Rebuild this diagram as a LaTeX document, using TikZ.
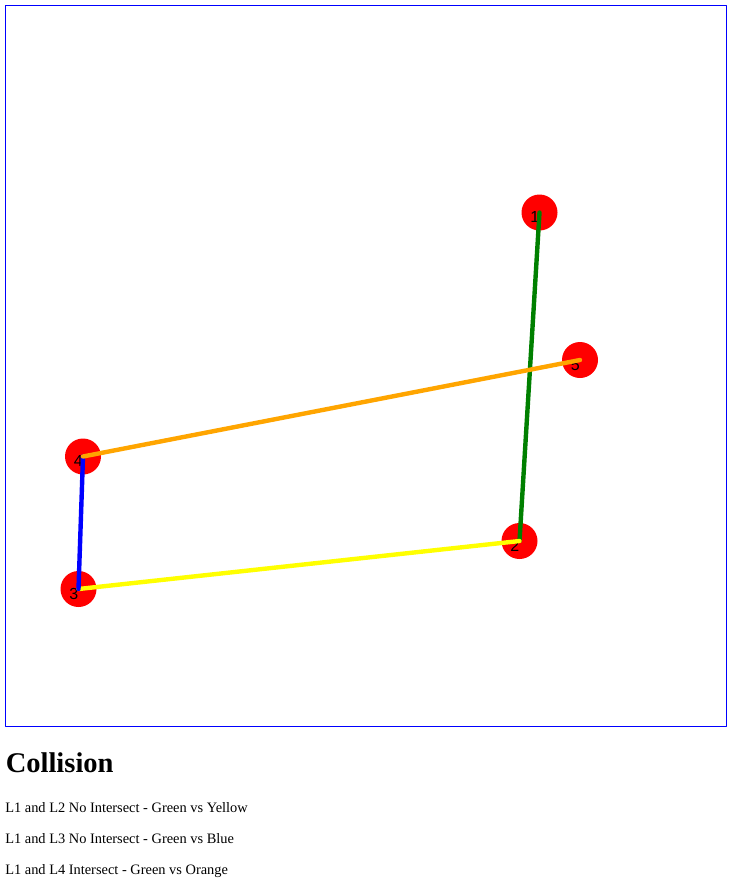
\documentclass[tikz,border=0pt]{standalone}
\usepackage{fontspec}
\setmainfont{Liberation Serif}
\newfontfamily\numfont{Liberation Sans}
\usetikzlibrary{calc}
\begin{document}
\begin{tikzpicture}[x=0.75pt,y=-0.75pt,line cap=round,line join=round,
  dot/.style={circle,fill=dotred,inner sep=0pt,minimum size=27pt},
  num/.style={anchor=base east,inner sep=0pt,font=\numfont\fontsize{12pt}{12pt}\selectfont},
  seg/.style={line width=3.3pt},
  msg/.style={anchor=base west,inner sep=0pt,font=\fontsize{10.8pt}{12pt}\selectfont}]
\definecolor{dotred}{HTML}{FF0000}
\definecolor{seggreen}{HTML}{008000}
\definecolor{segorange}{HTML}{FFA500}
\definecolor{segyellow}{HTML}{FFFF00}
\definecolor{segblue}{HTML}{0000FF}
\definecolor{framecol}{HTML}{0000FF}

\useasboundingbox (0,0) rectangle (734,883);
\draw[framecol,line width=0.75pt] (5.5,5.5) rectangle (726.5,726.5);

% points
\foreach \n/\x/\y in {1/539.5/212.5,2/519.5/541,3/78.5/589,4/83/456.5,5/580/360} {
  \node[dot] (p\n) at (\x,\y) {};
  \node[num] (t\n) at ($(p\n.center)+(0,10)$) {\n};
}

% segments
\draw[seg,seggreen] (p1.center) -- (p2.center);
\draw[seg,segyellow] (p3.center) -- (p2.center);
\draw[seg,segblue] (p4.center) -- (p3.center);
\draw[seg,segorange] (p4.center) -- (p5.center);

\node[anchor=base west,inner sep=0pt,font=\fontsize{21.4pt}{24pt}\selectfont\bfseries] (title) at (5.5,772.5) {Collision};
\node[msg] (c2) at (5,812) {L1 and L2 No Intersect - Green vs Yellow};
\node[msg] (c3) at (5,843) {L1 and L3 No Intersect - Green vs Blue};
\node[msg] (c4) at (5,874) {L1 and L4 Intersect - Green vs Orange};
\end{tikzpicture}
\end{document}
